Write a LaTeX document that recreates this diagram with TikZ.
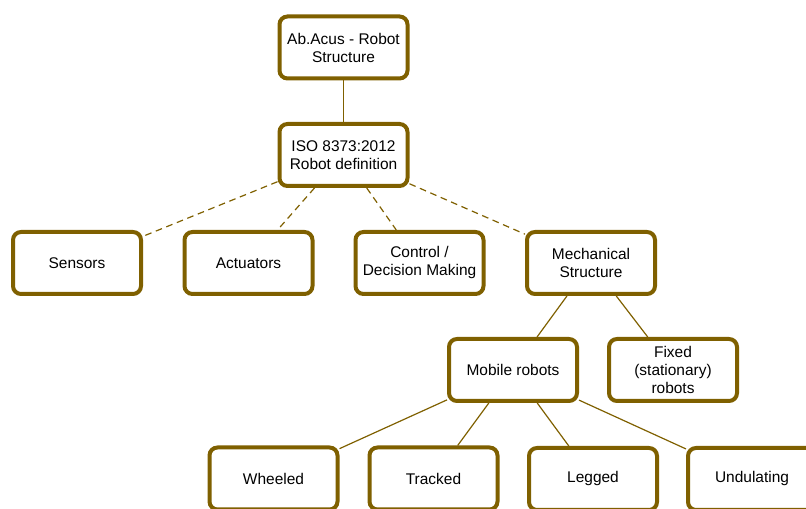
\documentclass[tikz,border=0pt]{standalone}
\usepackage{fontspec}
\setmainfont{Liberation Sans}
\usepackage{xcolor}
\definecolor{boxgold}{RGB}{127,96,0}

\begin{document}
\begin{tikzpicture}[x=0.75pt,y=0.75pt,
    box/.style={draw=boxgold,line width=3pt,rounded corners=6pt,fill=white,
        minimum width=96pt,minimum height=46.5pt,align=center,
        font=\fontsize{11.6}{13.5}\selectfont},
    link/.style={draw=boxgold,line width=0.9pt},
    dashlink/.style={link,dash pattern=on 5pt off 3.5pt}]
    % Frame
    \useasboundingbox (0,0) rectangle (806,509);
    \clip (0,0) rectangle (806,509);

    % Boxes
    \node[box] (root) at (343.5,461.5) {Ab.Acus - Robot\\Structure};
    \node[box] (iso) at (343.5,354) {ISO 8373:2012\\Robot definition};
    \node[box] (sensors) at (77,246) {Sensors};
    \node[box] (actuators) at (248.5,246) {Actuators};
    \node[box] (control) at (419.5,246) {Control /\\Decision Making};
    \node[box] (mech) at (591,246) {Mechanical\\Structure};
    \node[box] (mobile) at (513,139) {Mobile robots};
    \node[box] (fixed) at (673,139) {Fixed\\(stationary)\\robots};
    \node[box] (wheeled) at (273.5,30.5) {Wheeled};
    \node[box] (tracked) at (433.5,30.5) {Tracked};
    \node[box] (legged) at (593,30) {Legged};
    \node[box] (undulating) at (752,30) {Undulating};

    % Links
    \path[link] (root) -- (iso);
    \foreach \part in {sensors,actuators,control,mech}
        \path[dashlink] (iso) -- (\part);
    \foreach \kind in {mobile,fixed}
        \path[link] (mech) -- (\kind);
    \foreach \kind in {wheeled,tracked,legged,undulating}
        \path[link] (mobile) -- (\kind);
\end{tikzpicture}
\end{document}
